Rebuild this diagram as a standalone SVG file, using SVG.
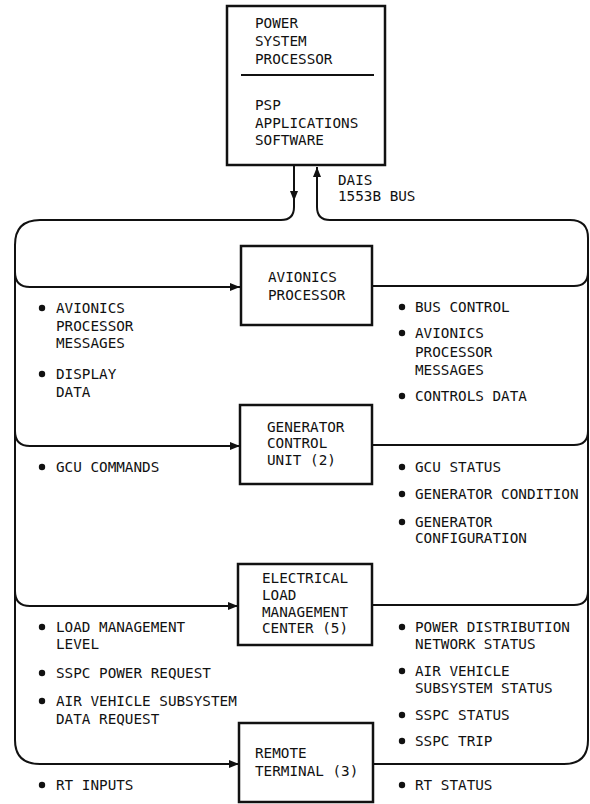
<svg xmlns="http://www.w3.org/2000/svg" width="590" height="804" viewBox="0 0 590 804">
<defs>
<style>
text{font-family:"DejaVu Sans Mono","Liberation Mono",monospace;font-size:14.3px;fill:#111}
.box{fill:#fff;stroke:#111;stroke-width:2.5}
.ln{fill:none;stroke:#111;stroke-width:2}
.dot{fill:#111}
</style>
<marker id="ah" viewBox="0 0 10 8" refX="10" refY="4" markerWidth="10" markerHeight="8" markerUnits="userSpaceOnUse" orient="auto">
<path d="M0,0 L10,4 L0,8 Z" fill="#111"/>
</marker>
</defs>
<g id="connectors">
<path class="ln" d="M294,166 L294,201" marker-end="url(#ah)"/>
<path class="ln" d="M294,198 L294,207 Q294,220 281,220 L40,220 Q15,220 15,245 L15,740 Q15,764 40,764 L239,764" marker-end="url(#ah)"/>
<path class="ln" d="M317,180 L317,207 Q317,220 330,220 L570,220 Q588,220 588,238 L588,740 Q588,764 564,764 L373,764"/>
<path class="ln" d="M317,190 L317,167" marker-end="url(#ah)"/>
<path class="ln" d="M15,272 Q15,287 30,287 L240,287" marker-end="url(#ah)"/>
<path class="ln" d="M15,431 Q15,446 30,446 L240,446" marker-end="url(#ah)"/>
<path class="ln" d="M15,591 Q15,606 30,606 L238,606" marker-end="url(#ah)"/>
<path class="ln" d="M372,286 L574,286 Q588,286 588,272"/>
<path class="ln" d="M372,445 L574,445 Q588,445 588,431"/>
<path class="ln" d="M372,605 L574,605 Q588,605 588,591"/>
</g>
<g id="psp">
<rect class="box" x="227" y="6" width="158" height="159"/>
<line x1="241" y1="75" x2="374" y2="75" stroke="#111" stroke-width="2"/>
<text x="255" y="28">POWER</text>
<text x="255" y="46">SYSTEM</text>
<text x="255" y="64">PROCESSOR</text>
<text x="255" y="110">PSP</text>
<text x="255" y="128">APPLICATIONS</text>
<text x="255" y="145">SOFTWARE</text>
</g>
<g id="bus-label">
<text x="338" y="185">DAIS</text>
<text x="338" y="201">1553B BUS</text>
</g>
<g id="avionics">
<rect class="box" x="241" y="246" width="131" height="79"/>
<text x="268" y="282">AVIONICS</text>
<text x="268" y="300">PROCESSOR</text>
</g>
<g id="gcu">
<rect class="box" x="240" y="405" width="132" height="79"/>
<text x="267" y="432">GENERATOR</text>
<text x="267" y="448">CONTROL</text>
<text x="267" y="465">UNIT (2)</text>
</g>
<g id="elmc">
<rect class="box" x="238" y="564" width="134" height="81"/>
<text x="262" y="583">ELECTRICAL</text>
<text x="262" y="600">LOAD</text>
<text x="262" y="617">MANAGEMENT</text>
<text x="262" y="633">CENTER (5)</text>
</g>
<g id="rt">
<rect class="box" x="239" y="723" width="134" height="79"/>
<text x="255" y="758">REMOTE</text>
<text x="255" y="776">TERMINAL (3)</text>
</g>
<g id="left-labels">
<circle class="dot" cx="42" cy="308" r="3.2"/>
<text x="56" y="313">AVIONICS</text>
<text x="56" y="331">PROCESSOR</text>
<text x="56" y="348">MESSAGES</text>
<circle class="dot" cx="42" cy="374" r="3.2"/>
<text x="56" y="379">DISPLAY</text>
<text x="56" y="397">DATA</text>
<circle class="dot" cx="42" cy="467" r="3.2"/>
<text x="56" y="472">GCU COMMANDS</text>
<circle class="dot" cx="42" cy="627" r="3.2"/>
<text x="56" y="632">LOAD MANAGEMENT</text>
<text x="56" y="649">LEVEL</text>
<circle class="dot" cx="42" cy="673" r="3.2"/>
<text x="56" y="678">SSPC POWER REQUEST</text>
<circle class="dot" cx="42" cy="701" r="3.2"/>
<text x="56" y="706">AIR VEHICLE SUBSYSTEM</text>
<text x="56" y="724">DATA REQUEST</text>
<circle class="dot" cx="42" cy="785" r="3.2"/>
<text x="56" y="790">RT INPUTS</text>
</g>
<g id="right-labels">
<circle class="dot" cx="402" cy="307" r="3.2"/>
<text x="415" y="312">BUS CONTROL</text>
<circle class="dot" cx="402" cy="333" r="3.2"/>
<text x="415" y="338">AVIONICS</text>
<text x="415" y="357">PROCESSOR</text>
<text x="415" y="375">MESSAGES</text>
<circle class="dot" cx="402" cy="396" r="3.2"/>
<text x="415" y="401">CONTROLS DATA</text>
<circle class="dot" cx="402" cy="467" r="3.2"/>
<text x="415" y="472">GCU STATUS</text>
<circle class="dot" cx="402" cy="494" r="3.2"/>
<text x="415" y="499">GENERATOR CONDITION</text>
<circle class="dot" cx="402" cy="522" r="3.2"/>
<text x="415" y="527">GENERATOR</text>
<text x="415" y="543">CONFIGURATION</text>
<circle class="dot" cx="402" cy="627" r="3.2"/>
<text x="415" y="632">POWER DISTRIBUTION</text>
<text x="415" y="649">NETWORK STATUS</text>
<circle class="dot" cx="402" cy="671" r="3.2"/>
<text x="415" y="676">AIR VEHICLE</text>
<text x="415" y="693">SUBSYSTEM STATUS</text>
<circle class="dot" cx="402" cy="715" r="3.2"/>
<text x="415" y="720">SSPC STATUS</text>
<circle class="dot" cx="402" cy="741" r="3.2"/>
<text x="415" y="746">SSPC TRIP</text>
<circle class="dot" cx="402" cy="785" r="3.2"/>
<text x="415" y="790">RT STATUS</text>
</g>
</svg>
